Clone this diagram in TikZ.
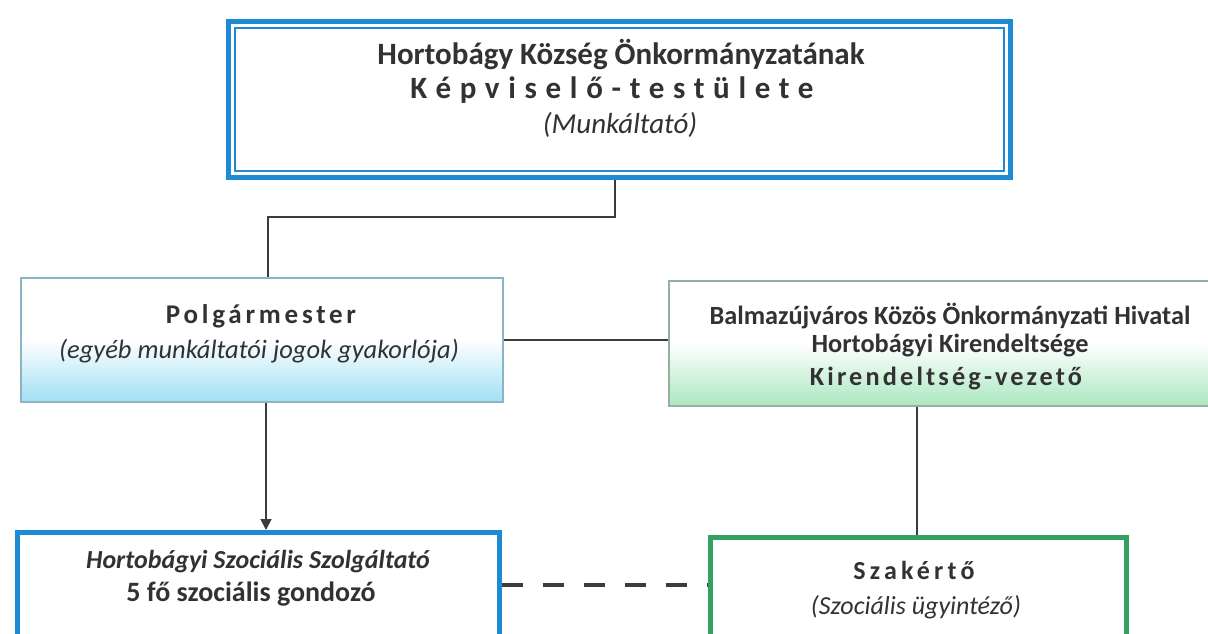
\documentclass[tikz,border=0pt]{standalone}
\usepackage{fontspec}
\setmainfont{Carlito}
\usetikzlibrary{arrows.meta}
\definecolor{tblue}{RGB}{30,138,212}
\definecolor{tgreen}{RGB}{52,160,100}
\definecolor{txt}{RGB}{50,50,50}
\definecolor{conn}{RGB}{60,60,60}
\definecolor{cyanfill}{RGB}{160,224,244}
\definecolor{greenfill}{RGB}{170,232,192}
\definecolor{pborder}{RGB}{140,180,196}
\definecolor{gborder}{RGB}{150,176,160}
\tikzset{
  boxbase/.style={rectangle, inner sep=0pt, anchor=north west},
  topbox/.style={boxbase, draw=tblue, line width=5pt, fill=white},
  polbox/.style={boxbase, draw=pborder, line width=1.6pt, top color=white, bottom color=cyanfill, middle color=white},
  grbox/.style={boxbase, draw=gborder, line width=1.6pt, top color=white, bottom color=greenfill, middle color=white},
  bluebox/.style={boxbase, draw=tblue, line width=4.5pt, fill=white},
  greenbox/.style={boxbase, draw=tgreen, line width=4.5pt, fill=white},
  lbl/.style={text=txt, inner sep=0pt, anchor=center},
  conline/.style={draw=conn, line width=1.8pt},
}
\newcommand{\fsz}[1]{\fontsize{#1}{#1}\selectfont}
\begin{document}
\begin{tikzpicture}[x=1pt,y=-1pt]
\clip (0,0) rectangle (1208,634);
\fill[white] (0,0) rectangle (1208,634);
% top box
\node[topbox, minimum width=782pt, minimum height=156pt] (top) at (226,19) {};
\draw[tblue, line width=1.8pt] ([shift={(9,9)}]top.north west) rectangle ([shift={(-9,-9)}]top.south east);
\node[lbl, font=\fsz{31}\bfseries] (t1) at (621,55) {Hortobágy Község Önkormányzatának};
\node[lbl, font=\fsz{31}\bfseries\addfontfeature{LetterSpace=28}] (t2) at (612,90) {Képviselő-testülete};
\node[lbl, font=\fsz{29}\itshape] (t3) at (620,125) {(Munkáltató)};
% polgarmester
\node[polbox, minimum width=482pt, minimum height=124pt] (pol) at (20,277) {};
\node[lbl, font=\fsz{27}\bfseries\addfontfeature{LetterSpace=14}] (p1) at (261,316) {Polgármester};
\node[lbl, font=\fsz{26.5}\itshape] (p2) at (259,351) {(egyéb munkáltatói jogok gyakorlója)};
% green office
\node[grbox, minimum width=564pt, minimum height=125pt] (hiv) at (668,280) {};
\node[lbl, font=\fsz{26.3}\bfseries] (h1) at (950,316) {Balmazújváros Közös Önkormányzati Hivatal};
\node[lbl, font=\fsz{26.3}\bfseries] (h2) at (950,345) {Hortobágyi Kirendeltsége};
\node[lbl, font=\fsz{26.3}\bfseries\addfontfeature{LetterSpace=12}] (h3) at (946,378) {Kirendeltség-vezető};
% bottom left
\node[bluebox, minimum width=482pt, minimum height=140pt] (szol) at (15,530) {};
\node[lbl, font=\fsz{26}\bfseries\itshape] (s1) at (258,562) {Hortobágyi Szociális Szolgáltató};
\node[lbl, font=\fsz{28}\bfseries] (s2) at (251,594) {5 fő szociális gondozó};
% bottom right
\node[greenbox, minimum width=416pt, minimum height=140pt] (szak) at (708,535) {};
\node[lbl, font=\fsz{26}\bfseries\addfontfeature{LetterSpace=16}] (k1) at (914,570) {Szakértő};
\node[lbl, font=\fsz{26}\itshape] (k2) at (916,607) {(Szociális ügyintéző)};
% connectors
\coordinate (c1) at (615,217);
\draw[conline] (top.south -| c1) -- (c1) -- (c1 -| 268,0) -- (pol.north -| 268,0);
\draw[conline] (pol.east |- 0,340) -- (hiv.west |- 0,340);
\draw[conline, -{Triangle[length=11pt,width=11pt]}] (pol.south -| 266,0) -- (szol.north -| 266,0);
\draw[conline] (hiv.south -| 917,0) -- (szak.north -| 917,0);
\draw[draw=conn, line width=4.5pt, dash pattern=on 21pt off 20pt] (szol.east |- 0,585) -- (szak.west |- 0,585);
\end{tikzpicture}
\end{document}
